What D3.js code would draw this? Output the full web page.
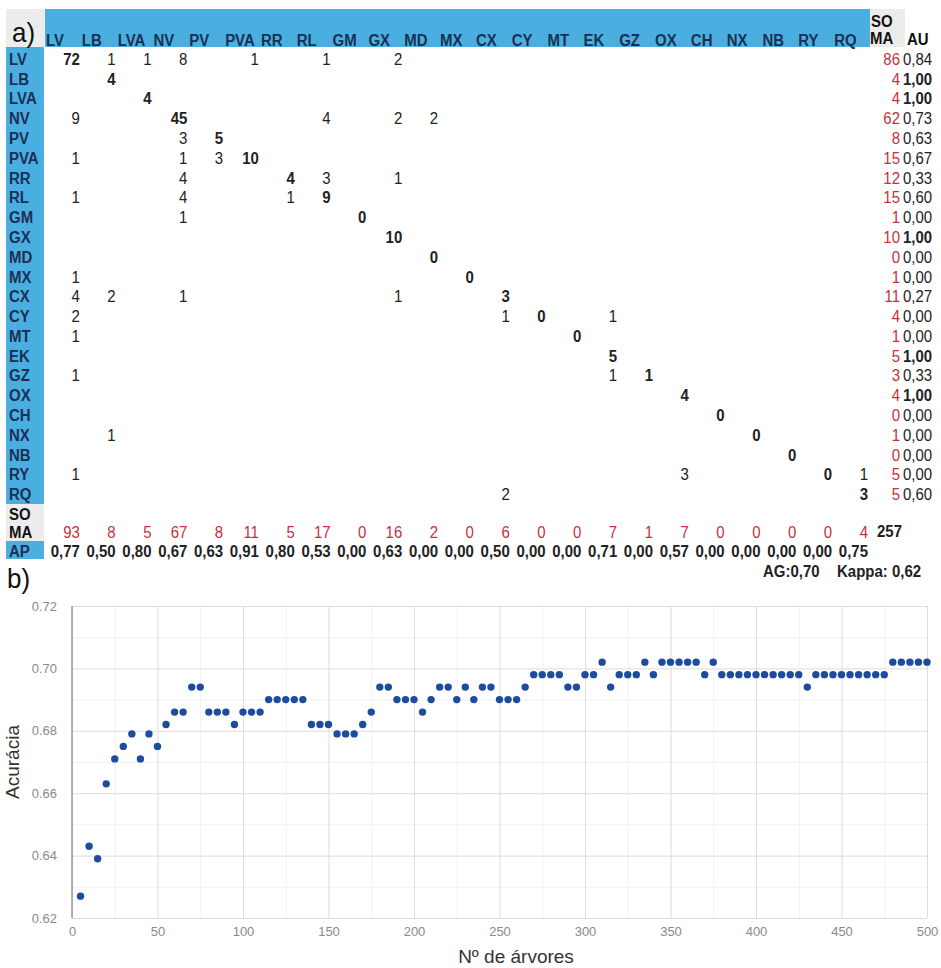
<!DOCTYPE html>
<html>
<head>
<meta charset="utf-8">
<script src="https://cdn.jsdelivr.net/npm/d3@7"></script>
<style>
  body { margin: 0; background: #fff; }
  svg { display: block; font-family: "Liberation Sans", Arial, sans-serif; }
</style>
</head>
<body>
<svg id="chart" width="941" height="968"></svg>
<script>
// ---- data: a) confusion matrix ----
const classes = ["LV","LB","LVA","NV","PV","PVA","RR","RL","GM","GX","MD","MX","CX","CY","MT","EK","GZ","OX","CH","NX","NB","RY","RQ"];

// [reference row, predicted column, count]
const cells = [
  ["LV","LV",72],["LV","LB",1],["LV","LVA",1],["LV","NV",8],["LV","PVA",1],["LV","RL",1],["LV","GX",2],
  ["LB","LB",4],
  ["LVA","LVA",4],
  ["NV","LV",9],["NV","NV",45],["NV","RL",4],["NV","GX",2],["NV","MD",2],
  ["PV","NV",3],["PV","PV",5],
  ["PVA","LV",1],["PVA","NV",1],["PVA","PV",3],["PVA","PVA",10],
  ["RR","NV",4],["RR","RR",4],["RR","RL",3],["RR","GX",1],
  ["RL","LV",1],["RL","NV",4],["RL","RR",1],["RL","RL",9],
  ["GM","NV",1],["GM","GM",0],
  ["GX","GX",10],
  ["MD","MD",0],
  ["MX","LV",1],["MX","MX",0],
  ["CX","LV",4],["CX","LB",2],["CX","NV",1],["CX","GX",1],["CX","CX",3],
  ["CY","LV",2],["CY","CX",1],["CY","CY",0],["CY","EK",1],
  ["MT","LV",1],["MT","MT",0],
  ["EK","EK",5],
  ["GZ","LV",1],["GZ","EK",1],["GZ","GZ",1],
  ["OX","OX",4],
  ["CH","CH",0],
  ["NX","LB",1],["NX","NX",0],
  ["NB","NB",0],
  ["RY","LV",1],["RY","OX",3],["RY","RY",0],["RY","RQ",1],
  ["RQ","CX",2],["RQ","RQ",3]
];

const rowTotals = [86,4,4,62,8,15,12,15,1,10,0,1,11,4,1,5,3,4,0,1,0,5,5];
const colTotals = [93,8,5,67,8,11,5,17,0,16,2,0,6,0,0,7,1,7,0,0,0,0,4];
const userAcc = [0.84,1.00,1.00,0.73,0.63,0.67,0.33,0.60,0.00,1.00,0.00,0.00,0.27,0.00,0.00,1.00,0.33,1.00,0.00,0.00,0.00,0.00,0.60];
const prodAcc = [0.77,0.50,0.80,0.67,0.63,0.91,0.80,0.53,0.00,0.63,0.00,0.00,0.50,0.00,0.00,0.71,0.00,0.57,0.00,0.00,0.00,0.00,0.75];
const grandTotal = 257;
const overallAcc = 0.70;
const kappa = 0.62;

// ---- data: b) accuracy vs number of trees ----
const trees = [5,10,15,20,25,30,35,40,45,50,55,60,65,70,75,80,85,90,95,100,
  105,110,115,120,125,130,135,140,145,150,155,160,165,170,175,180,185,190,195,200,
  205,210,215,220,225,230,235,240,245,250,255,260,265,270,275,280,285,290,295,300,
  305,310,315,320,325,330,335,340,345,350,355,360,365,370,375,380,385,390,395,400,
  405,410,415,420,425,430,435,440,445,450,455,460,465,470,475,480,485,490,495,500];
const accuracy = [0.627,0.643,0.639,0.663,0.671,0.675,0.679,0.671,0.679,0.675,0.682,0.686,0.686,0.694,0.694,0.686,0.686,0.686,0.682,0.686,
  0.686,0.686,0.690,0.690,0.690,0.690,0.690,0.682,0.682,0.682,0.679,0.679,0.679,0.682,0.686,0.694,0.694,0.690,0.690,0.690,
  0.686,0.690,0.694,0.694,0.690,0.694,0.690,0.694,0.694,0.690,0.690,0.690,0.694,0.698,0.698,0.698,0.698,0.694,0.694,0.698,
  0.698,0.702,0.694,0.698,0.698,0.698,0.702,0.698,0.702,0.702,0.702,0.702,0.702,0.698,0.702,0.698,0.698,0.698,0.698,0.698,
  0.698,0.698,0.698,0.698,0.698,0.694,0.698,0.698,0.698,0.698,0.698,0.698,0.698,0.698,0.698,0.702,0.702,0.702,0.702,0.702];
const xTicks = [0,50,100,150,200,250,300,350,400,450,500];
const yTicks = [0.62,0.64,0.66,0.68,0.70,0.72];

const svg = d3.select("#chart");
const blue = "#4aafe0", grey = "#ececec", navy = "#1a2f55", red = "#c9303c", ink = "#222";
const comma = d3.formatLocale({ decimal: ",", thousands: ".", grouping: [3], currency: ["", ""] }).format(".2f");

// text slightly taller than wide, like the scanned table
function label(g, x, y, txt, opts = {}) {
  return g.append("text")
    .attr("transform", `translate(${x},${y}) scale(1,${opts.sy || 1.12})`)
    .attr("text-anchor", opts.anchor || "start")
    .attr("font-size", opts.size || 15)
    .attr("font-weight", opts.bold ? "bold" : "normal")
    .attr("fill", opts.color || ink)
    .text(txt);
}

// ---------- a) table ----------
const tbl = svg.append("g");
const col = d3.scaleBand().domain(classes).range([45, 869]);
const row = d3.scaleBand().domain(classes).range([49, 504]);
const rowBase = c => row(c) + row.bandwidth() / 2 + 6;
const colRight = c => col(c) + col.bandwidth() - 1;

tbl.append("rect").attr("x", 6).attr("y", 9).attr("width", 39).attr("height", 38).attr("fill", grey);
tbl.append("rect").attr("x", 45).attr("y", 9).attr("width", 825).attr("height", 38).attr("fill", blue);
tbl.append("rect").attr("x", 870).attr("y", 9).attr("width", 35).attr("height", 38).attr("fill", grey);
tbl.append("rect").attr("x", 6).attr("y", 47).attr("width", 38).attr("height", 457).attr("fill", blue);
tbl.append("rect").attr("x", 6).attr("y", 504).attr("width", 38).attr("height", 37).attr("fill", grey);
tbl.append("rect").attr("x", 6).attr("y", 541).attr("width", 38).attr("height", 18).attr("fill", blue);

label(tbl, 12, 42, "a)", { size: 26, sy: 1.05, color: "#111" });

classes.forEach(c => label(tbl, col(c) + 1, 46, c, { bold: true, color: navy }));
classes.forEach(c => label(tbl, 9, rowBase(c), c, { bold: true, color: navy }));

label(tbl, 871, 27, "SO", { bold: true, color: "#111" });
label(tbl, 870, 44, "MA", { bold: true, color: "#111" });
label(tbl, 907, 45, "AU", { bold: true, color: "#111" });

cells.forEach(([r, c, v]) =>
  label(tbl, colRight(c), rowBase(r), v, { anchor: "end", bold: r === c }));

classes.forEach((c, i) => {
  label(tbl, 900, rowBase(c), rowTotals[i], { anchor: "end", color: red });
  label(tbl, 903, rowBase(c), comma(userAcc[i]), { bold: userAcc[i] === 1 });
});

label(tbl, 9, 520, "SO", { bold: true, color: "#111" });
label(tbl, 9, 538, "MA", { bold: true, color: "#111" });
label(tbl, 9, 557, "AP", { bold: true, color: navy });

classes.forEach((c, i) => {
  label(tbl, colRight(c), 538, colTotals[i], { anchor: "end", color: red });
  label(tbl, colRight(c), 557, comma(prodAcc[i]), { anchor: "end", bold: true });
});
label(tbl, 902, 537, grandTotal, { anchor: "end", bold: true });
label(tbl, 763, 577, "AG:" + comma(overallAcc), { bold: true });
label(tbl, 837, 577, "Kappa: " + comma(kappa), { bold: true });

// ---------- b) scatter ----------
label(svg, 7, 588, "b)", { size: 26, sy: 1.05, color: "#111" });

const x = d3.scaleLinear().domain([0, 500]).range([72, 927]);
const y = d3.scaleLinear().domain([0.62, 0.72]).range([918, 606]);
const plot = svg.append("g");

// minor grid
plot.append("g")
  .attr("transform", "translate(0,918)")
  .call(d3.axisBottom(x).tickValues(d3.range(25, 500, 50)).tickSize(-312).tickFormat(""))
  .call(g => g.select(".domain").remove())
  .call(g => g.selectAll("line").attr("stroke", "#f0f0f0"));
plot.append("g")
  .attr("transform", "translate(72,0)")
  .call(d3.axisLeft(y).tickValues(d3.range(0.63, 0.72, 0.02)).tickSize(-855).tickFormat(""))
  .call(g => g.select(".domain").remove())
  .call(g => g.selectAll("line").attr("stroke", "#f0f0f0"));

// major grid + tick labels
plot.append("g")
  .attr("transform", "translate(0,918)")
  .call(d3.axisBottom(x).tickValues(xTicks).tickSize(-312).tickPadding(9))
  .call(g => g.select(".domain").remove())
  .call(g => g.selectAll("line").attr("stroke", "#dcdcdc"))
  .call(g => g.selectAll("text").attr("fill", "#8a8a8a").attr("font-size", 13)
    .attr("font-family", "'Liberation Sans', Arial, sans-serif"));
plot.append("g")
  .attr("transform", "translate(72,0)")
  .call(d3.axisLeft(y).tickValues(yTicks).tickSize(-855).tickPadding(15).tickFormat(d3.format(".2f")))
  .call(g => g.select(".domain").remove())
  .call(g => g.selectAll("line").attr("stroke", "#dcdcdc"))
  .call(g => g.selectAll("text").attr("fill", "#8a8a8a").attr("font-size", 13)
    .attr("font-family", "'Liberation Sans', Arial, sans-serif"));

// left axis line
plot.append("line").attr("x1", 72).attr("x2", 72).attr("y1", 606).attr("y2", 918)
  .attr("stroke", "#9a9a9a").attr("stroke-width", 1.5);

plot.append("g").selectAll("circle")
  .data(trees.map((t, i) => [t, accuracy[i]]))
  .join("circle")
  .attr("cx", d => x(d[0]))
  .attr("cy", d => y(d[1]))
  .attr("r", 3.7)
  .attr("fill", "#1d4c9e");

svg.append("text")
  .attr("transform", "translate(19,762) rotate(-90)")
  .attr("text-anchor", "middle")
  .attr("font-size", 19)
  .attr("fill", "#333")
  .text("Acurácia");
svg.append("text")
  .attr("x", 516).attr("y", 963)
  .attr("text-anchor", "middle")
  .attr("font-size", 19)
  .attr("fill", "#333")
  .text("Nº de árvores");
</script>
</body>
</html>
